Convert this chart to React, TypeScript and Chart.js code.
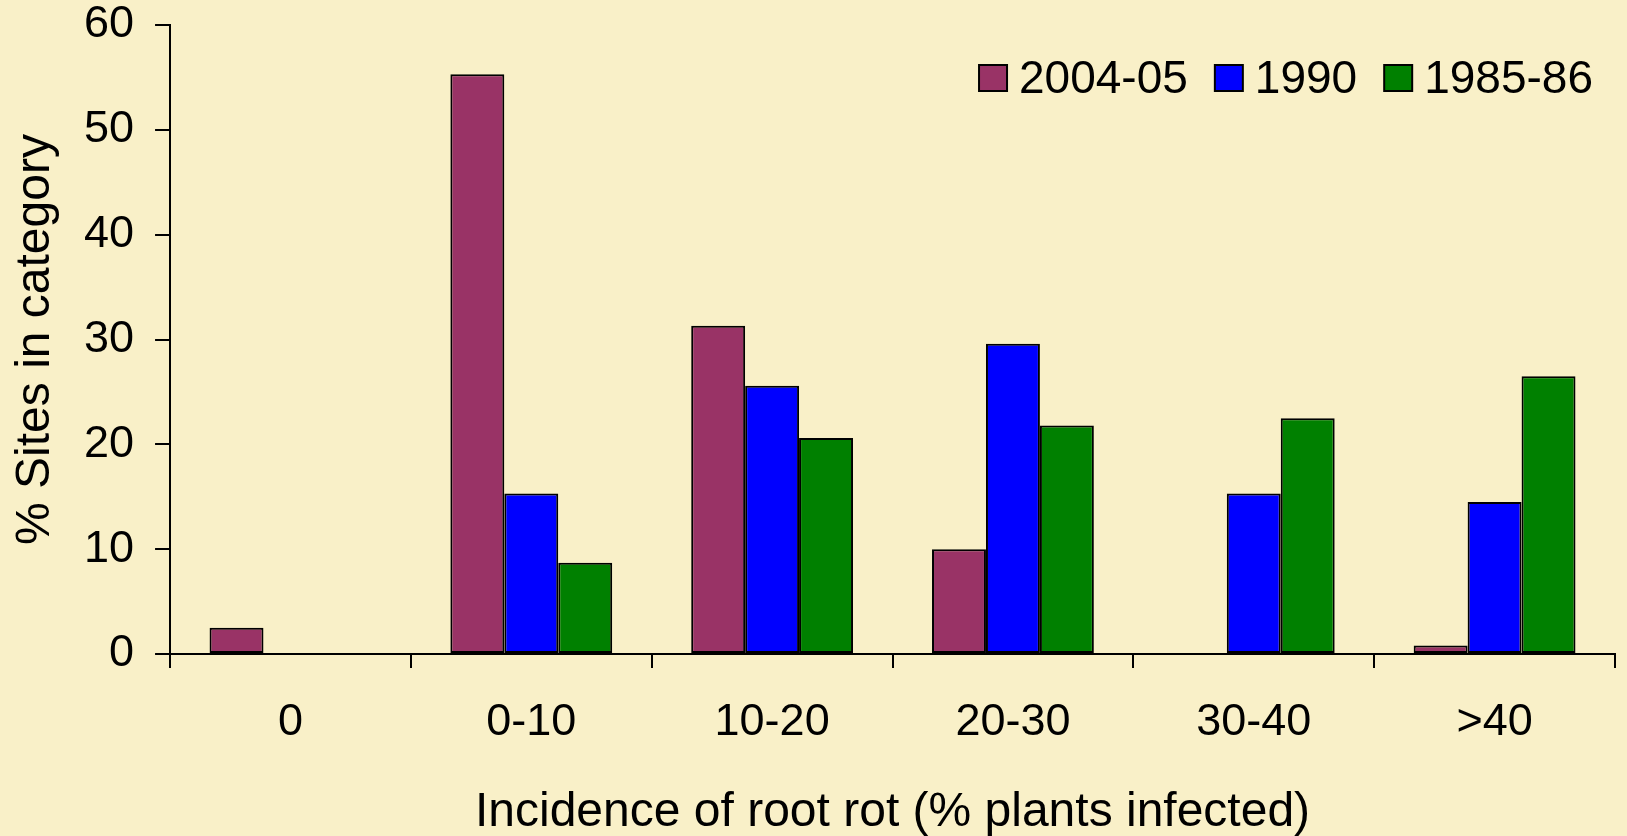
import React, { useEffect, useRef } from "react";
import { Chart, registerables } from "chart.js";

Chart.register(...registerables);

const categories = ["0", "0-10", "10-20", "20-30", "30-40", ">40"];
const series2004 = [2.5, 55.3, 31.3, 10.0, 0, 0.8];
const series1990 = [0, 15.3, 25.6, 29.6, 15.3, 14.5];
const series1985 = [0, 8.7, 20.6, 21.8, 22.5, 26.5];
const seriesNames = ["2004-05", "1990", "1985-86"];
const seriesColors = ["#993366", "#0000FF", "#008000"];

const FONT = "'Liberation Sans', Arial, Helvetica, sans-serif";
const BG = "#F9F0C8";

const legendPlugin = {
  id: "customLegend",
  afterDraw(chart: any) {
    const ctx = chart.ctx;
    ctx.save();
    ctx.font = `46px ${FONT}`;
    ctx.textBaseline = "middle";
    ctx.textAlign = "left";
    const boxW = 28;
    const boxH = 26;
    const gap = 12;
    const itemGap = 27;
    const right = 1593;
    const cy = 78;
    const items = chart.data.datasets.map((d: any) => ({
      label: d.label,
      color: d.backgroundColor,
      w: ctx.measureText(d.label).width,
    }));
    let total = 0;
    items.forEach((it: any, i: number) => {
      total += boxW + gap + it.w + (i < items.length - 1 ? itemGap : 0);
    });
    let x = right - total;
    items.forEach((it: any) => {
      ctx.fillStyle = it.color;
      ctx.fillRect(x, cy - boxH / 2, boxW, boxH);
      ctx.lineWidth = 2;
      ctx.strokeStyle = "#000";
      ctx.strokeRect(x, cy - boxH / 2, boxW, boxH);
      ctx.fillStyle = "#000";
      ctx.fillText(it.label, x + boxW + gap, cy + 2);
      x += boxW + gap + it.w + itemGap;
    });
    ctx.restore();
  },
};

export default function App() {
  const ref = useRef<HTMLCanvasElement | null>(null);
  useEffect(() => {
    if (!ref.current) return;
    const chart = new Chart(ref.current, {
      type: "bar",
      data: {
        labels: categories,
        datasets: [series2004, series1990, series1985].map((vals, i) => ({
          label: seriesNames[i],
          data: vals,
          backgroundColor: seriesColors[i],
          borderColor: "#000",
          borderWidth: 2,
          borderSkipped: false,
          categoryPercentage: 0.672,
          barPercentage: 1,
        })),
      },
      options: {
        animation: false,
        responsive: false,
        layout: { padding: { top: 25, right: 12, left: 6, bottom: 0 } },
        plugins: {
          legend: { display: false },
          tooltip: { enabled: false },
        },
        scales: {
          x: {
            offset: true,
            grid: {
              offset: true,
              drawOnChartArea: false,
              drawTicks: true,
              tickLength: 14,
              color: "#000",
              lineWidth: 2,
            },
            border: { display: true, color: "#000", width: 2 },
            ticks: {
              color: "#000",
              font: { family: FONT, size: 45 },
              padding: 28,
              maxRotation: 0,
            },
            title: {
              display: true,
              text: "Incidence of root rot (% plants infected)",
              color: "#000",
              font: { family: FONT, size: 48, lineHeight: 1 },
              padding: { top: 11, bottom: -1 },
            },
          },
          y: {
            min: 0,
            max: 60,
            afterFit: (scale: any) => {
              scale.paddingTop = 0;
            },
            ticks: {
              stepSize: 10,
              color: "#000",
              font: { family: FONT, size: 45 },
              padding: 21,
            },
            grid: {
              drawOnChartArea: false,
              drawTicks: true,
              tickLength: 15,
              color: "#000",
              lineWidth: 2,
            },
            border: { display: true, color: "#000", width: 2 },
            title: {
              display: true,
              text: "% Sites in category",
              color: "#000",
              font: { family: FONT, size: 48, lineHeight: 1 },
              padding: { top: 6, bottom: 3 },
            },
          },
        },
      },
      plugins: [legendPlugin],
    });
    return () => chart.destroy();
  }, []);
  return (
    <div
      style={{
        position: "absolute",
        left: 0,
        top: 0,
        width: 1627,
        height: 836,
        background: BG,
      }}
    >
      <canvas ref={ref} width={1627} height={836} style={{ display: "block" }} />
    </div>
  );
}
